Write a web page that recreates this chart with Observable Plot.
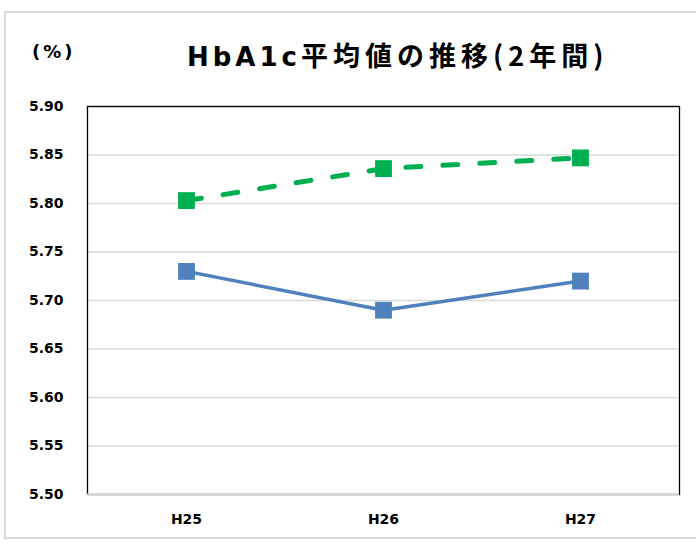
<!DOCTYPE html>
<html><head><meta charset="utf-8">
<script src="https://cdn.jsdelivr.net/npm/d3@7"></script>
<script src="https://cdn.jsdelivr.net/npm/@observablehq/plot@0.6"></script>
<style>
body{margin:0;background:#fff;}
#wrap{position:relative;width:696px;height:545px;overflow:hidden;}
#border{position:absolute;left:4px;top:11px;width:720px;height:528px;border:2px solid #d9d9d9;box-sizing:border-box;}
#chart{position:absolute;left:0;top:0;}
.t{position:absolute;white-space:nowrap;font-weight:bold;color:#000;line-height:1;}
#title{left:187px;top:41px;font-size:27px;font-family:"Noto Sans CJK JP";}
#title .lat{letter-spacing:4px;font-family:"DejaVu Sans";font-size:26px;}
#title .jp{letter-spacing:5px;}
#unit{left:32px;top:43px;font-size:18px;letter-spacing:3px;font-family:"DejaVu Sans";}
</style>
</head><body>
<div id="wrap"><div id="border"></div><div id="chart"></div>
<div id="title" class="t"></div><div id="unit" class="t"></div></div>
<script>
const years = ["H25", "H26", "H27"];
const seriesA = [5.73, 5.69, 5.72];      // blue solid
const seriesB = [5.803, 5.836, 5.847];   // green dashed
const yTicks = [5.50, 5.55, 5.60, 5.65, 5.70, 5.75, 5.80, 5.85, 5.90];
const titleLatin = "HbA1c";
const titleRest = "平均値の推移(2年間)";
const unit = "(%)";

const dataA = years.map((y, i) => ({year: y, value: seriesA[i]}));
const dataB = years.map((y, i) => ({year: y, value: seriesB[i]}));

const plot = Plot.plot({
  width: 696, height: 545,
  marginTop: 106, marginLeft: 87, marginRight: 17, marginBottom: 51,
  style: {background: "transparent", fontFamily: "DejaVu Sans", overflow: "visible"},
  x: {type: "point", domain: years, padding: 0.5, label: null},
  y: {domain: [5.5, 5.9], label: null},
  marks: [
    Plot.ruleY(yTicks, {stroke: "#d9d9d9", strokeWidth: 1.3}),
    Plot.frame({stroke: "#000", strokeWidth: 1.3}),
    Plot.ruleY([5.5], {stroke: "#d9d9d9", strokeWidth: 2}),
    Plot.axisY({ticks: yTicks, tickFormat: d3.format(".2f"), tickSize: 0, tickPadding: 24,
      fontSize: 14, fontWeight: "bold", fill: "#000", label: null}),
    Plot.axisX({tickSize: 0, tickPadding: 20, fontSize: 14, fontWeight: "bold", fill: "#000", label: null}),
    Plot.line(dataB, {x: "year", y: "value", stroke: "#00B050", strokeWidth: 5,
      strokeDasharray: "15,22", strokeLinecap: "round"}),
    Plot.dot(dataB, {x: "year", y: "value", symbol: "square", r: 9.5, fill: "#00B050"}),
    Plot.line(dataA, {x: "year", y: "value", stroke: "#4F81BD", strokeWidth: 3.5}),
    Plot.dot(dataA, {x: "year", y: "value", symbol: "square", r: 9.5, fill: "#4F81BD"})
  ]
});
document.getElementById("chart").appendChild(plot);
const t = document.getElementById("title");
const s1 = document.createElement("span"); s1.className = "lat"; s1.textContent = titleLatin;
const s2 = document.createElement("span"); s2.className = "jp"; s2.textContent = titleRest;
t.appendChild(s1); t.appendChild(s2);
document.getElementById("unit").textContent = unit;
</script>
</body></html>
